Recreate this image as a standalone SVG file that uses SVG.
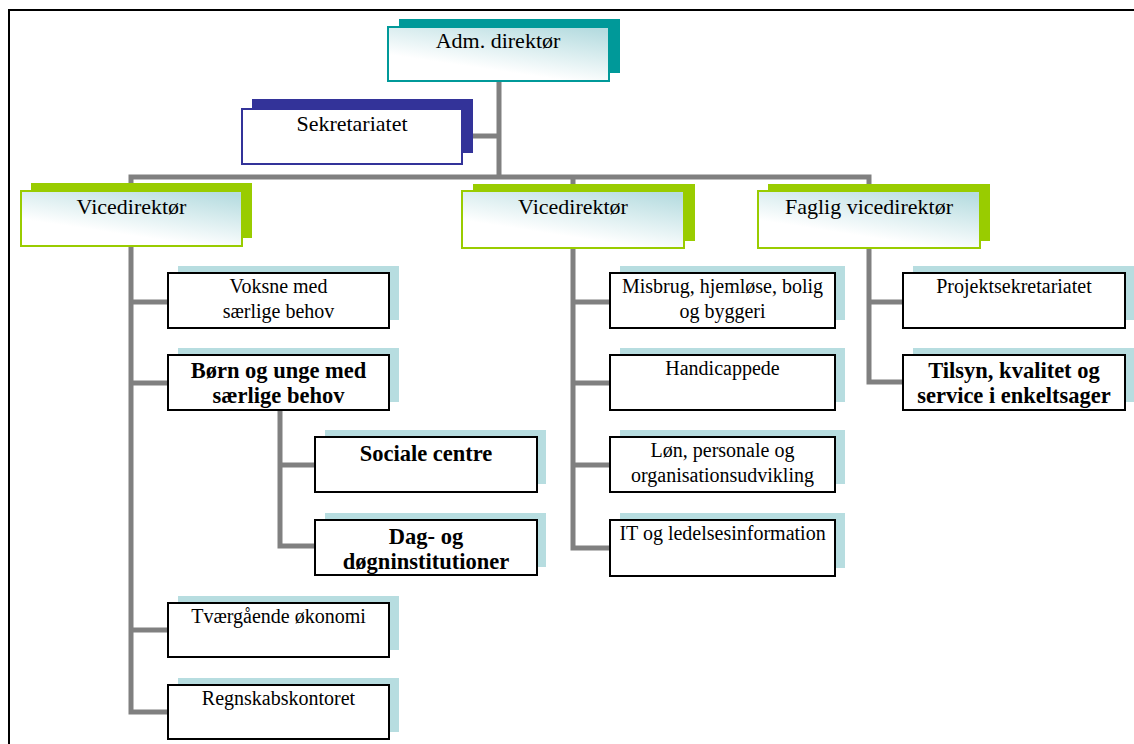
<svg xmlns="http://www.w3.org/2000/svg" width="1134" height="744" viewBox="0 0 1134 744">
<style>
.t{font-family:"Liberation Serif","Times New Roman",serif;fill:#000;text-anchor:middle}
.l1{font-size:22px}
.c{font-size:20px}
.b{font-size:22.5px;font-weight:bold}
.conn{fill:none;stroke:#808080;stroke-width:5;stroke-linecap:square}
.csh{fill:#b7dde0}
.cbx{fill:#fff;stroke:#000;stroke-width:2}
</style>
<defs>
<linearGradient id="g" x1="0.25" y1="1" x2="0.85" y2="0">
<stop offset="0.25" stop-color="#ffffff"/>
<stop offset="1" stop-color="#b6dce0"/>
</linearGradient>
</defs>
<rect width="1134" height="744" fill="#fff"/>
<path d="M9 744 V10 H1134" fill="none" stroke="#000" stroke-width="2"/>
<g id="connectors">
<path class="conn" d="M499 81 V177 M473 136 H499 M131 177 H869 M131 177 V191 M573 177 V191 M869 177 V191"/>
<path class="conn" d="M131 246 V712 M131 302 H168 M131 383 H168 M131 630 H168 M131 712 H168"/>
<path class="conn" d="M280 410 V546 M280 465 H315 M280 546 H315"/>
<path class="conn" d="M573 249 V548 M573 302 H610 M573 383 H610 M573 465 H610 M573 548 H610"/>
<path class="conn" d="M869 249 V382 M869 302 H903 M869 382 H903"/>
</g>
<g id="adm">
<rect x="399" y="19" width="221" height="54" fill="#009999"/>
<rect x="388" y="27" width="221" height="54" fill="url(#g)" stroke="#009999" stroke-width="2"/>
<text class="t l1" x="498" y="48">Adm. direktør</text>
</g>
<g id="sekretariatet">
<rect x="252" y="99" width="221" height="54" fill="#333399"/>
<rect x="242" y="109" width="220" height="55" fill="#fff" stroke="#333399" stroke-width="2"/>
<text class="t l1" x="352" y="131">Sekretariatet</text>
</g>
<g id="vice1">
<rect x="31" y="183" width="221" height="55" fill="#99cc00"/>
<rect x="21" y="191" width="221" height="55" fill="url(#g)" stroke="#99cc00" stroke-width="2"/>
<text class="t l1" x="131.5" y="214">Vicedirektør</text>
</g>
<g id="vice2">
<rect x="473" y="184" width="222" height="57" fill="#99cc00"/>
<rect x="462" y="191" width="222" height="57" fill="url(#g)" stroke="#99cc00" stroke-width="2"/>
<text class="t l1" x="573" y="214">Vicedirektør</text>
</g>
<g id="vice3">
<rect x="768" y="184" width="222" height="57" fill="#99cc00"/>
<rect x="758" y="191" width="222" height="57" fill="url(#g)" stroke="#99cc00" stroke-width="2"/>
<text class="t l1" x="869" y="214">Faglig vicedirektør</text>
</g>
<g id="voksne">
<rect class="csh" x="178" y="266" width="221" height="54"/>
<rect class="cbx" x="168" y="273" width="221" height="55"/>
<text class="t c" x="278.5" y="293">Voksne med</text>
<text class="t c" x="278.5" y="318">særlige behov</text>
</g>
<g id="boern">
<rect class="csh" x="178" y="348" width="221" height="54"/>
<rect class="cbx" x="168" y="355" width="221" height="55"/>
<text class="t b" x="278.5" y="378">Børn og unge med</text>
<text class="t b" x="278.5" y="403">særlige behov</text>
</g>
<g id="sociale">
<rect class="csh" x="325" y="430" width="221" height="54"/>
<rect class="cbx" x="315" y="437" width="222" height="55"/>
<text class="t b" x="426" y="461">Sociale centre</text>
</g>
<g id="dag">
<rect class="csh" x="325" y="513" width="221" height="54"/>
<rect class="cbx" x="315" y="520" width="222" height="55"/>
<text class="t b" x="426" y="544">Dag- og</text>
<text class="t b" x="426" y="569">døgninstitutioner</text>
</g>
<g id="tvaer">
<rect class="csh" x="178" y="596" width="221" height="54"/>
<rect class="cbx" x="168" y="603" width="221" height="54"/>
<text class="t c" x="278.5" y="623">Tværgående økonomi</text>
</g>
<g id="regnskab">
<rect class="csh" x="178" y="678" width="221" height="54"/>
<rect class="cbx" x="168" y="685" width="221" height="54"/>
<text class="t c" x="278.5" y="705">Regnskabskontoret</text>
</g>
<g id="misbrug">
<rect class="csh" x="620" y="266" width="225" height="54"/>
<rect class="cbx" x="610" y="273" width="225" height="55"/>
<text class="t c" x="722.5" y="293">Misbrug, hjemløse, bolig</text>
<text class="t c" x="722.5" y="318">og byggeri</text>
</g>
<g id="handicap">
<rect class="csh" x="620" y="348" width="225" height="54"/>
<rect class="cbx" x="610" y="355" width="225" height="55"/>
<text class="t c" x="722.5" y="375">Handicappede</text>
</g>
<g id="loen">
<rect class="csh" x="620" y="430" width="225" height="54"/>
<rect class="cbx" x="610" y="437" width="225" height="55"/>
<text class="t c" x="722.5" y="457">Løn, personale og</text>
<text class="t c" x="722.5" y="482">organisationsudvikling</text>
</g>
<g id="it">
<rect class="csh" x="620" y="513" width="225" height="55"/>
<rect class="cbx" x="610" y="520" width="225" height="56"/>
<text class="t c" x="722.5" y="540">IT og ledelsesinformation</text>
</g>
<g id="projekt">
<rect class="csh" x="913" y="266" width="221" height="54"/>
<rect class="cbx" x="903" y="273" width="222" height="55"/>
<text class="t c" x="1014" y="293">Projektsekretariatet</text>
</g>
<g id="tilsyn">
<rect class="csh" x="913" y="348" width="221" height="54"/>
<rect class="cbx" x="903" y="355" width="222" height="55"/>
<text class="t b" x="1014" y="378">Tilsyn, kvalitet og</text>
<text class="t b" x="1014" y="403">service i enkeltsager</text>
</g>
</svg>
